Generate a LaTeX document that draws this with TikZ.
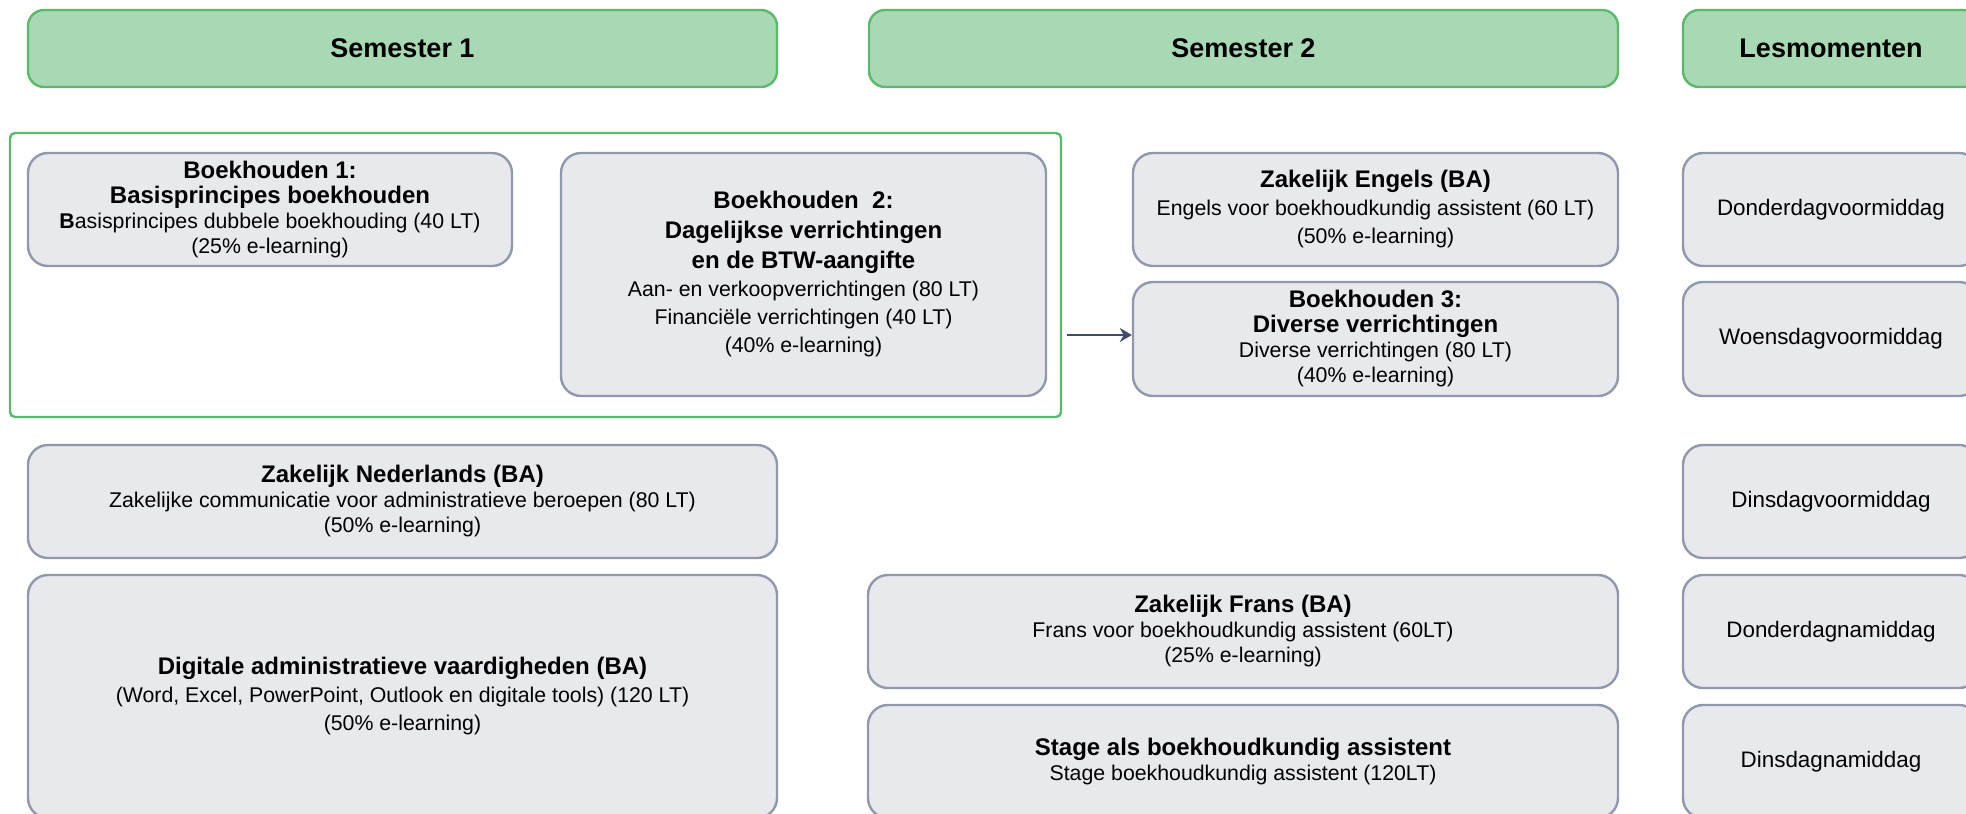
\documentclass[tikz,border=0pt]{standalone}
\usepackage{fontspec}
\setmainfont{Liberation Sans}
\usepackage{tikz}
\usetikzlibrary{arrows.meta}
\definecolor{hdrfill}{HTML}{A9D8B4}
\definecolor{hdrline}{HTML}{5CB86B}
\definecolor{boxfill}{HTML}{E8E9ED}
\definecolor{boxline}{HTML}{9198AC}
\definecolor{arrowcol}{HTML}{414B6B}
\newcommand{\cname}[1]{{\fontsize{12}{12.5}\selectfont\bfseries #1}}
\tikzset{
    hdr/.style={draw=hdrline, fill=hdrfill, line width=1.2pt, rounded corners=8pt,
        font=\fontsize{13.5}{15}\selectfont\bfseries, minimum height=38.5pt},
    course/.style={draw=boxline, fill=boxfill, line width=1.2pt, rounded corners=10pt,
        align=center, inner sep=0pt, minimum height=56.5pt,
        font=\fontsize{10.65}{12.5}\selectfont},
    roomy/.style={font=\fontsize{10.65}{14}\selectfont},
    slot/.style={course, minimum width=148pt, font=\fontsize{11.2}{13}\selectfont},
    grp/.style={draw=hdrline, line width=1.2pt, rounded corners=2.5pt,
        minimum width=525.5pt, minimum height=142pt},
}

\begin{document}
\begin{tikzpicture}[x=0.5pt, y=-0.5pt]
\path[use as bounding box] (0,0) rectangle (1966,814);
\clip (0,0) rectangle (1966,814);
% headers
\node[hdr, minimum width=374.5pt] (sem1) at (402.5,48.5) {Semester 1};
\node[hdr, minimum width=374.5pt] (sem2) at (1243.5,48.5) {Semester 2};
\node[hdr, minimum width=148pt] (les) at (1831,48.5) {Lesmomenten};
% boekhouden
\node[grp] (grp) at (535.5,275) {};
\node[course, minimum width=242pt] (bh1) at (270,209.5) {\cname{Boekhouden 1:}\\ \cname{Basisprincipes boekhouden}\\ \textbf{B}asisprincipes dubbele boekhouding (40 LT)\\ (25\% e-learning)};
\node[course, roomy, minimum width=242.5pt, minimum height=121.5pt] (bh2) at (803.5,274.5) {\cname{Boekhouden \ 2:}\\[1pt] \cname{Dagelijkse verrichtingen}\\[1pt] \cname{en de BTW-aangifte}\\ Aan- en verkoopverrichtingen (80 LT)\\ Financiële verrichtingen (40 LT)\\ (40\% e-learning)};
\node[course, roomy, minimum width=242.5pt] (eng) at (1375.5,209.5) {\cname{Zakelijk Engels (BA)}\\ Engels voor boekhoudkundig assistent (60 LT)\\ (50\% e-learning)};
\node[course, minimum width=242.5pt, minimum height=57pt] (bh3) at (1375.5,339) {\cname{Boekhouden 3:}\\ \cname{Diverse verrichtingen}\\ Diverse verrichtingen (80 LT)\\ (40\% e-learning)};
\draw[arrowcol, line width=1.3pt, shorten <=2.5pt, -{Stealth[length=6pt,width=7pt,inset=2pt]}] ([yshift=2pt]bh3.west -| grp.east) -- ([yshift=2pt]bh3.west);
% talen en andere
\node[course, minimum width=374.5pt] (ned) at (402.5,501.5) {\cname{Zakelijk Nederlands (BA)}\\ Zakelijke communicatie voor administratieve beroepen (80 LT)\\ (50\% e-learning)};
\node[course, roomy, minimum width=374.5pt, minimum height=121.5pt] (dig) at (402.5,696.5) {\cname{Digitale administratieve vaardigheden (BA)}\\ (Word, Excel, PowerPoint, Outlook en digitale tools) (120 LT)\\ (50\% e-learning)};
\node[course, minimum width=375pt] (fra) at (1243,631.5) {\cname{Zakelijk Frans (BA)}\\ Frans voor boekhoudkundig assistent (60LT)\\ (25\% e-learning)};
\node[course, minimum width=375pt] (stage) at (1243,761.5) {\cname{Stage als boekhoudkundig assistent}\\ Stage boekhoudkundig assistent (120LT)};
% lesmomenten
\node[slot] (do1) at (1831,209.5) {Donderdagvoormiddag};
\node[slot, minimum height=57pt] (wo1) at (1831,339) {Woensdagvoormiddag};
\node[slot] (di1) at (1831,501.5) {Dinsdagvoormiddag};
\node[slot] (do2) at (1831,631.5) {Donderdagnamiddag};
\node[slot] (di2) at (1831,761.5) {Dinsdagnamiddag};
\end{tikzpicture}
\end{document}
